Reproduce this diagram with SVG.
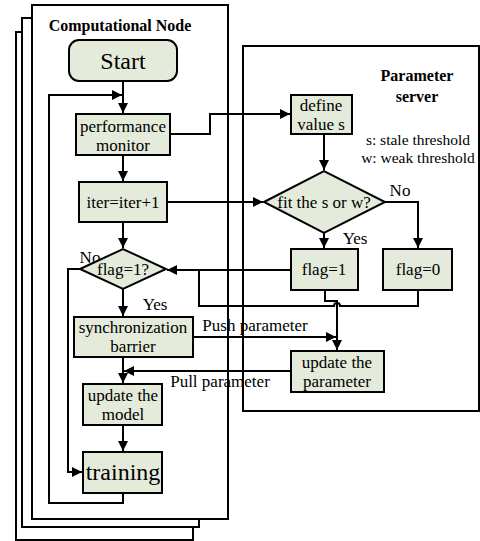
<svg xmlns="http://www.w3.org/2000/svg" width="480" height="541" viewBox="0 0 480 541" font-family="'Liberation Serif', 'DejaVu Serif', serif">
<defs>
<style>
.fr{fill:#fff;stroke:#000;stroke-width:2}
.bx{fill:#e4ebda;stroke:#000;stroke-width:2}
.ln{fill:none;stroke:#000;stroke-width:2}
text{font-family:'Liberation Serif','DejaVu Serif',serif;font-size:17px;fill:#000;text-anchor:middle}
.b{font-weight:bold;font-size:16px}
.big{font-size:24px}
.sm{font-size:15.5px}
</style>
<marker id="ar" viewBox="0 0 10 10" refX="10" refY="5" markerWidth="5" markerHeight="5" orient="auto" markerUnits="strokeWidth">
<path d="M0,0 L10,5 L0,10 z" fill="#000"/>
</marker>
</defs>
<g id="frames">
<rect class="fr" x="16" y="32" width="177" height="508"/>
<rect class="fr" x="22" y="18" width="177" height="509"/>
<rect class="fr" x="32" y="5" width="196" height="514"/>
<rect class="fr" x="243" y="46" width="236" height="365"/>
<text class="b" x="120" y="31">Computational Node</text>
<text class="b" x="417" y="81">Parameter</text>
<text class="b" x="417" y="102">server</text>
<text class="sm" x="418" y="145">s: stale threshold</text>
<text class="sm" x="418" y="163">w: weak threshold</text>
</g>
<g id="connectors">
<path class="ln" d="M123,81 V113" marker-end="url(#ar)"/>
<path class="ln" d="M123,493 V503 H49 V95 H122" marker-end="url(#ar)"/>
<path class="ln" d="M123,155 V181" marker-end="url(#ar)"/>
<path class="ln" d="M170,134 H210 V114 H290" marker-end="url(#ar)"/>
<path class="ln" d="M123,222 V248" marker-end="url(#ar)"/>
<path class="ln" d="M167,202 H263" marker-end="url(#ar)"/>
<path class="ln" d="M324,134 V170" marker-end="url(#ar)"/>
<path class="ln" d="M385,202 H418 V248" marker-end="url(#ar)"/>
<path class="ln" d="M324,233 V248" marker-end="url(#ar)"/>
<path class="ln" d="M291,270 H167" marker-end="url(#ar)"/>
<path class="ln" d="M418,290 V306 H340 A3,3 0 0 0 334,306 H199 V270"/>
<path class="ln" d="M325,290 V301 H337 V350" marker-end="url(#ar)"/>
<path class="ln" d="M123,289 V316" marker-end="url(#ar)"/>
<path class="ln" d="M80,269 H68 V472 H82" marker-end="url(#ar)"/>
<path class="ln" d="M193,337 H336" marker-end="url(#ar)"/>
<path class="ln" d="M291,371 H124" marker-end="url(#ar)"/>
<path class="ln" d="M123,357 V383" marker-end="url(#ar)"/>
<path class="ln" d="M123,425 V451" marker-end="url(#ar)"/>
<text x="255" y="331">Push parameter</text>
<text x="220" y="387">Pull parameter</text>
<text x="90" y="263">No</text>
<text x="155" y="310">Yes</text>
<text x="400" y="196">No</text>
<text x="355" y="244">Yes</text>
</g>
<g id="start">
<rect class="bx" x="69" y="40" width="108" height="41" rx="10"/>
<text class="big" x="123" y="69">Start</text>
</g>
<g id="perf">
<rect class="bx" x="76" y="114" width="94" height="41"/>
<text x="123" y="132">performance</text>
<text x="123" y="151">monitor</text>
</g>
<g id="iter">
<rect class="bx" x="79" y="182" width="88" height="40"/>
<text x="123" y="208">iter=iter+1</text>
</g>
<g id="flagq">
<polygon class="bx" points="80,269 123,249 166,269 123,289"/>
<text x="123" y="275">flag=1?</text>
</g>
<g id="sync">
<rect class="bx" x="74" y="317" width="119" height="40"/>
<text x="133" y="333">synchronization</text>
<text x="133" y="352">barrier</text>
</g>
<g id="updmodel">
<rect class="bx" x="83" y="384" width="79" height="41"/>
<text x="123" y="401">update the</text>
<text x="123" y="420">model</text>
</g>
<g id="training">
<rect class="bx" x="83" y="452" width="79" height="41"/>
<text class="big" x="123" y="480">training</text>
</g>
<g id="define">
<rect class="bx" x="291" y="95" width="61" height="39"/>
<text x="321" y="111">define</text>
<text x="321" y="130">value s</text>
</g>
<g id="fit">
<polygon class="bx" points="264,202 324,171 385,202 324,233"/>
<text x="324" y="208">fit the s or w?</text>
</g>
<g id="flag1">
<rect class="bx" x="291" y="249" width="67" height="41"/>
<text x="324" y="275">flag=1</text>
</g>
<g id="flag0">
<rect class="bx" x="383" y="249" width="69" height="41"/>
<text x="418" y="275">flag=0</text>
</g>
<g id="updparam">
<rect class="bx" x="291" y="351" width="93" height="41"/>
<text x="337" y="368">update the</text>
<text x="337" y="387">parameter</text>
</g>
</svg>
